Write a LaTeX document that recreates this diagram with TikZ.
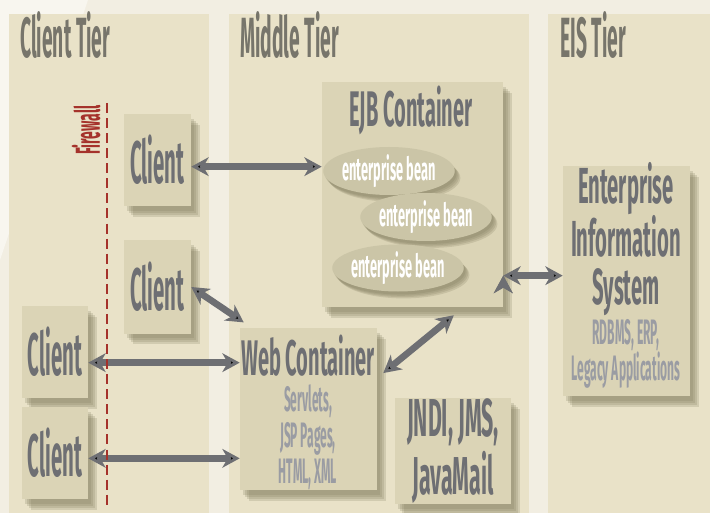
\documentclass[tikz,border=0pt]{standalone}
\usepackage{fontspec}
\newfontfamily\tierfont{Fira Sans}[FakeStretch=0.34]
\newfontfamily\widefont{Fira Sans}[FakeStretch=0.40]
\usetikzlibrary{positioning, shadows, arrows.meta, shapes.geometric}

\definecolor{backc}{HTML}{F2EEE2}
\definecolor{backlight}{HTML}{F8F6EF}
\definecolor{panelc}{HTML}{E9E2C8}
\definecolor{boxc}{HTML}{DBD4B6}
\definecolor{shadowc}{HTML}{807B5D}
\definecolor{titlec}{HTML}{77756B}
\definecolor{textc}{HTML}{6E6F73}
\definecolor{subc}{HTML}{9A9CA3}
\definecolor{beanc}{HTML}{CBC5A7}
\definecolor{firec}{HTML}{A5322B}

\tikzset{
  px size/.style 2 args={minimum width=#1*0.75pt, minimum height=#2*0.75pt},
  soft shadow/.style={
    general shadow={fill=shadowc, opacity=0.22, shadow xshift=#1*3pt, shadow yshift=-#1*3.7pt},
    general shadow={fill=shadowc, opacity=0.22, shadow xshift=#1*2.3pt, shadow yshift=-#1*3pt},
    general shadow={fill=shadowc, opacity=0.22, shadow xshift=#1*1.6pt, shadow yshift=-#1*2.3pt},
    general shadow={fill=shadowc, opacity=0.22, shadow xshift=#1*0.9pt, shadow yshift=-#1*1.6pt}},
  tiertitle/.style={anchor=base west, inner sep=0pt, text=titlec,
    font=\tierfont\bfseries\fontsize{42.5}{42.5}\selectfont},
  tierbox/.style={rectangle, fill=boxc, inner sep=0pt, text=textc,
    font=\tierfont\bfseries\fontsize{45}{45}\selectfont, soft shadow=2.2},
  boxtitle/.style={anchor=base, inner sep=0pt, text=textc,
    font=\widefont\bfseries\fontsize{37.5}{37.5}\selectfont},
  bigtext/.style={align=center, inner sep=0pt, text=textc,
    font=\widefont\bfseries\fontsize{38}{36}\selectfont},
  subtext/.style={align=center, inner sep=0pt, text=subc,
    font=\tierfont\bfseries\fontsize{26.5}{27}\selectfont},
  bean/.style={ellipse, fill=beanc, inner sep=0pt, text=white,
    font=\widefont\bfseries\fontsize{24}{24}\selectfont, soft shadow=1.4},
  link/.style={draw=textc, line width=5pt,
    {Stealth[length=13pt, width=14pt, inset=4pt]}-{Stealth[length=13pt, width=14pt, inset=4pt]}},
  firewall/.style={draw=firec, line width=2.2pt, dash pattern=on 7.5pt off 3.8pt},
  fwlabel/.style={inner sep=0pt, text=firec,
    font=\widefont\bfseries\fontsize{26}{26}\selectfont}
}

\begin{document}
\begin{tikzpicture}[x=0.75pt, y=-0.75pt]
    \useasboundingbox (0,0) rectangle (710,513);
    \fill[backc] (0,0) rectangle (710,513);
    \fill[backlight] (0,0) -- (88,0) -- (0,260) -- cycle;

    % the three tiers
    \fill[panelc] (9,14) rectangle (209,513);
    \fill[panelc] (229,14) rectangle (529,513);
    \fill[panelc] (548,14) rectangle (710,513);
    \node[tiertitle] (clienttier) at (20,58) {Client Tier};
    \node[tiertitle] (middletier) at (240,58) {Middle Tier};
    \node[tiertitle] (eistier)    at (560,58) {EIS Tier};

    % clients
    \node[tierbox, px size={67}{92}] (c1) at (157.5,160) {Client};
    \node[tierbox, px size={67}{93}] (c2) at (157.5,287) {Client};
    \node[tierbox, px size={66}{92}] (c3) at (55,352) {Client};
    \node[tierbox, px size={66}{92}] (c4) at (55,453) {Client};

    % middle tier
    \node[tierbox, px size={181}{225}] (ejb) at (412.5,194.5) {};
    \node[boxtitle] (ejbtitle) at (411,127) {EJB Container};
    \node[bean, px size={130}{48}] (b1) at (389,171) {enterprise bean};
    \node[bean, px size={127}{48}] (b2) at (426,217) {enterprise bean};
    \node[bean, px size={126}{47}] (b3) at (398,268) {enterprise bean};

    \node[tierbox, px size={137}{162}] (web) at (308.5,409) {};
    \node[boxtitle] (webtitle) at (308,375) {Web Container};
    \node[subtext] (websub) at (308,437) {Servlets,\\JSP Pages,\\HTML, XML};

    \node[tierbox, px size={116}{106}, align=center,
          font=\widefont\bfseries\fontsize{40}{43}\selectfont] (jndi) at (453,451) {JNDI, JMS,\\JavaMail};

    % eis tier
    \node[tierbox, px size={127}{230}] (eis) at (626.5,281) {};
    \node[bigtext] (eistitle) at (626,239) {Enterprise\\Information\\System};
    \node[subtext] (eissub) at (626,354) {RDBMS, ERP,\\Legacy Applications};

    % connections
    \coordinate (a1) at ([yshift=-5pt]c1.east);
    \coordinate (a3) at ([yshift=-8pt]c3.east);
    \coordinate (a4) at ([yshift=-4pt]c4.east);
    \coordinate (a6) at ([yshift=4pt]eis.west);
    \path[link] (a1) edge (a1 -| ejb.west)
                (c2.east) edge ([xshift=3pt, yshift=4pt]web.north west)
                (a3) edge (a3 -| web.west)
                (a4) edge (a4 -| web.west)
                ([xshift=4.5pt, yshift=-34pt]web.north east) edge ([xshift=31pt, yshift=-6pt]ejb.south)
                (a6 -| ejb.east) edge (a6);

    % firewall
    \coordinate (fwtop) at (107,103);
    \coordinate (fwbot) at (107,507);
    \draw[firewall] (fwtop) -- (fwbot);
    \node[fwlabel, rotate=90] (fw) at (86,130) {Firewall};
\end{tikzpicture}
\end{document}
